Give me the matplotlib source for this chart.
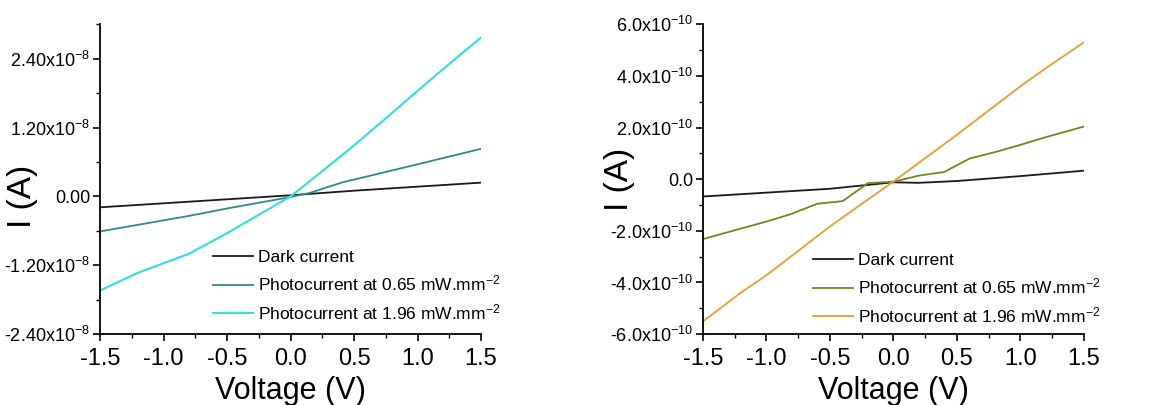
import matplotlib
matplotlib.use("Agg")
import matplotlib.pyplot as plt
from matplotlib.ticker import MultipleLocator

plt.rcParams['font.family'] = ['Liberation Sans', 'DejaVu Sans']
plt.rcParams['mathtext.fontset'] = 'custom'
plt.rcParams['mathtext.rm'] = 'Liberation Sans'
plt.rcParams['mathtext.it'] = 'Liberation Sans'
plt.rcParams['axes.unicode_minus'] = False

# left panel data (A)
v_dark_l = [-1.5, -1.0, -0.5, 0.0, 0.5, 1.0, 1.5]
i_dark_l = [-1.9e-9, -1.2e-9, -0.5e-9, 0.2e-9, 1.0e-9, 1.7e-9, 2.4e-9]

v_p1_l = [-1.5, -0.8, -0.5, 0.0, 0.15, 0.4, 1.0, 1.5]
i_p1_l = [-6.1e-9, -3.4e-9, -2.1e-9, -0.1e-9, 0.6e-9, 2.4e-9, 5.6e-9, 8.3e-9]

v_p2_l = [-1.5, -1.2, -0.8, -0.5, -0.25, 0.0, 0.25, 0.5, 0.75, 1.0, 1.25, 1.5]
i_p2_l = [-16.4e-9, -13.3e-9, -10.0e-9, -6.4e-9, -3.2e-9, 0.0, 4.4e-9, 8.9e-9, 13.6e-9, 18.4e-9, 23.1e-9, 27.7e-9]

# right panel data (A)
v_dark_r = [-1.5, -1.0, -0.5, 0.0, 0.2, 0.5, 1.0, 1.5]
i_dark_r = [-0.67e-10, -0.52e-10, -0.37e-10, -0.12e-10, -0.14e-10, -0.07e-10, 0.12e-10, 0.33e-10]

v_p1_r = [-1.5, -1.2, -1.0, -0.8, -0.6, -0.4, -0.2, 0.0, 0.2, 0.4, 0.6, 0.8, 1.0, 1.2, 1.5]
i_p1_r = [-2.32e-10, -1.91e-10, -1.64e-10, -1.34e-10, -0.95e-10, -0.85e-10, -0.15e-10, -0.10e-10,
          0.14e-10, 0.28e-10, 0.80e-10, 1.05e-10, 1.33e-10, 1.63e-10, 2.04e-10]

v_p2_r = [-1.5, -1.2, -1.0, -0.5, 0.0, 0.5, 1.0, 1.2, 1.5]
i_p2_r = [-5.51e-10, -4.39e-10, -3.72e-10, -1.83e-10, -0.09e-10, 1.72e-10, 3.6e-10, 4.3e-10, 5.30e-10]

labels = ["Dark current",
          "Photocurrent at 0.65 mW.mm$^{-2}$",
          "Photocurrent at 1.96 mW.mm$^{-2}$"]

xticks = [-1.5, -1.0, -0.5, 0.0, 0.5, 1.0, 1.5]
yticks_l = [-2.4e-8, -1.2e-8, 0.0, 1.2e-8, 2.4e-8]
yticklabels_l = ["-2.40x10$^{-8}$", "-1.20x10$^{-8}$", "0.00", "1.20x10$^{-8}$", "2.40x10$^{-8}$"]
yticks_r = [-6e-10, -4e-10, -2e-10, 0.0, 2e-10, 4e-10, 6e-10]
yticklabels_r = ["-6.0x10$^{-10}$", "-4.0x10$^{-10}$", "-2.0x10$^{-10}$", "0.0",
                 "2.0x10$^{-10}$", "4.0x10$^{-10}$", "6.0x10$^{-10}$"]

fig = plt.figure(figsize=(11.58, 4.05), dpi=100)
ax1 = fig.add_axes([0.0864, 0.175, 0.329, 0.765])
ax2 = fig.add_axes([0.607, 0.175, 0.329, 0.765])

ax1.plot(v_dark_l, i_dark_l, color="#1a1a1a", lw=1.3, label=labels[0])
ax1.plot(v_p1_l, i_p1_l, color="#2e8a8a", lw=1.3, label=labels[1])
ax1.plot(v_p2_l, i_p2_l, color="#40dcdc", lw=1.6, label=labels[2])

ax2.plot(v_dark_r, i_dark_r, color="#1a1a1a", lw=1.3, label=labels[0])
ax2.plot(v_p1_r, i_p1_r, color="#6b8a1e", lw=1.3, label=labels[1])
ax2.plot(v_p2_r, i_p2_r, color="#ee9a35", lw=1.3, label=labels[2])

for ax, ylim, yt, ytl, minor in [(ax1, (-2.4e-8, 3.0e-8), yticks_l, yticklabels_l, 0.6e-8),
                                 (ax2, (-6e-10, 6e-10), yticks_r, yticklabels_r, 1e-10)]:
    ax.set_xlim(-1.5, 1.5)
    ax.set_ylim(*ylim)
    ax.set_xticks(xticks)
    ax.set_xticklabels(["%.1f" % v for v in xticks])
    ax.set_yticks(yt)
    ax.set_yticklabels(ytl)
    ax.yaxis.set_minor_locator(MultipleLocator(minor))
    ax.xaxis.set_minor_locator(MultipleLocator(0.25))
    ax.spines['top'].set_visible(False)
    ax.spines['right'].set_visible(False)
    ax.spines['left'].set_linewidth(1.3)
    ax.spines['bottom'].set_linewidth(1.3)
    ax.tick_params(axis='both', which='major', direction='out', length=5, width=1.2)
    ax.tick_params(axis='both', which='minor', direction='out', length=3, width=1.0)
    ax.tick_params(axis='x', labelsize=17, pad=5)
    ax.tick_params(axis='y', labelsize=13, pad=2)
    ax.set_xlabel("Voltage (V)", fontsize=22, labelpad=4)
    ax.set_ylabel("I (A)", fontsize=24)

ax1.yaxis.set_label_coords(-0.163, 0.445)
ax2.yaxis.set_label_coords(-0.178, 0.50)

ax1.legend(loc='upper left', bbox_to_anchor=(0.297, 0.272), frameon=False, fontsize=12.5,
           handlelength=2.3, handletextpad=0.3, borderpad=0, borderaxespad=0, labelspacing=0.5)
ax2.legend(loc='upper left', bbox_to_anchor=(0.289, 0.262), frameon=False, fontsize=12.5,
           handlelength=2.3, handletextpad=0.3, borderpad=0, borderaxespad=0, labelspacing=0.5)

fig.savefig("out.png", dpi=100)
